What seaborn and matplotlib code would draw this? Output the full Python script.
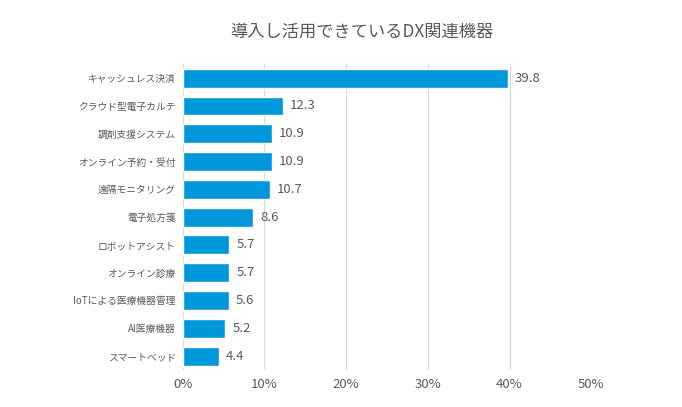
import matplotlib
matplotlib.use("Agg")
import matplotlib.pyplot as plt
import seaborn as sns
import pandas as pd

# data
CATEGORIES = ["キャッシュレス決済", "クラウド型電子カルテ", "調剤支援システム", "オンライン予約・受付",
              "遠隔モニタリング", "電子処方箋", "ロボットアシスト", "オンライン診療",
              "IoTによる医療機器管理", "AI医療機器", "スマートベッド"]
VALUES = [39.8, 12.3, 10.9, 10.9, 10.7, 8.6, 5.7, 5.7, 5.6, 5.2, 4.4]
XTICKS = [0, 10, 20, 30, 40, 50]

BAR_COLOR = "#0098DB"
TEXT_COLOR = "#595959"

sns.set_style("white")
plt.rcParams["font.family"] = ["Noto Sans CJK JP", "DejaVu Sans"]

df = pd.DataFrame({"item": CATEGORIES, "value": VALUES})

fig = plt.figure(figsize=(6.82, 4.07), dpi=100)
ax = fig.add_axes([0.268, 0.091, 0.599, 0.751])

sns.barplot(data=df, x="value", y="item", color=BAR_COLOR, saturation=1,
            width=0.68, ax=ax, zorder=3)

for i, v in enumerate(VALUES):
    ax.text(v + 0.85, i, f"{v:.1f}", va="center", ha="left", fontsize=9.5, color=TEXT_COLOR)

ax.set_xlim(0, 50)
ax.set_ylim(10.5, -0.5)
ax.set_xticks(XTICKS)
ax.set_xticklabels([f"{t}%" for t in XTICKS])
ax.xaxis.grid(True, color="#D9D9D9", linewidth=0.8, zorder=0)
ax.set_xlabel("")
ax.set_ylabel("")
ax.tick_params(axis="both", length=0, colors=TEXT_COLOR)
ax.tick_params(axis="x", labelsize=9.5, pad=6)
ax.tick_params(axis="y", labelsize=7.0, pad=5)
for s in ax.spines.values():
    s.set_visible(False)

fig.text(0.531, 0.921, "導入し活用できているDX関連機器", ha="center", va="center",
         fontsize=12.4, color=TEXT_COLOR)

fig.savefig("out.png", dpi=100, facecolor="white")
